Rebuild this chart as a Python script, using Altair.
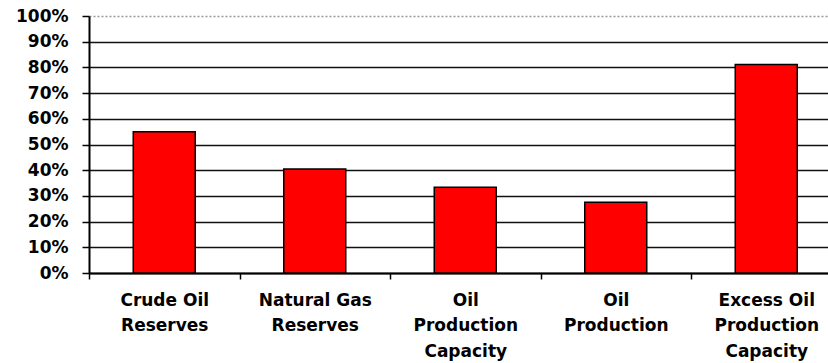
import altair as alt
import pandas as pd

categories = [
    "Crude Oil\nReserves",
    "Natural Gas\nReserves",
    "Oil\nProduction\nCapacity",
    "Oil\nProduction",
    "Excess Oil\nProduction\nCapacity",
]
values = [0.55, 0.405, 0.334, 0.275, 0.811]
y_ticks = [0, 0.1, 0.2, 0.3, 0.4, 0.5, 0.6, 0.7, 0.8, 0.9, 1.0]

df = pd.DataFrame({"category": categories, "value": values})

FONT = "DejaVu Sans"

chart = (
    alt.Chart(df)
    .mark_bar(width=62, color="#FF0000", stroke="#000000", strokeWidth=1.5)
    .encode(
        x=alt.X(
            "category:N",
            sort=categories,
            scale=alt.Scale(range=[0, 752.5], paddingInner=0, paddingOuter=0),
            axis=alt.Axis(
                title=None,
                labelAngle=0,
                labelExpr="split(datum.label, '\\n')",
                labelFont=FONT,
                labelFontSize=17,
                labelFontWeight="bold",
                labelColor="#000000",
                labelLineHeight=25.5,
                labelPadding=13,
                labelBaseline="top",
                tickBand="extent",
                tickSize=6,
                tickColor="#000000",
                tickWidth=1.5,
                domainColor="#000000",
                domainWidth=2,
                grid=False,
            ),
        ),
        y=alt.Y(
            "value:Q",
            scale=alt.Scale(domain=[0, 1], nice=False),
            axis=alt.Axis(
                title=None,
                values=y_ticks,
                format=".0%",
                labelFont=FONT,
                labelFontSize=17,
                labelFontWeight="bold",
                labelColor="#000000",
                labelPadding=14,
                tickSize=7,
                tickColor="#000000",
                tickWidth=1.5,
                domainColor="#000000",
                domainWidth=2,
                grid=True,
                gridColor={"condition": {"test": "datum.value >= 1", "value": "#999999"}, "value": "#111111"},
                gridDash={"condition": {"test": "datum.value >= 1", "value": [2, 2]}, "value": []},
                gridWidth=1.5,
            ),
        ),
    )
    .properties(
        width=739,
        height=257,
        autosize=alt.AutoSizeParams(type="none"),
        padding={"left": 89, "top": 16, "right": 0, "bottom": 90},
        background="#FFFFFF",
    )
    .configure_view(stroke=None)
)

chart.save("out.html", embed_options={"renderer": "svg", "actions": False})
